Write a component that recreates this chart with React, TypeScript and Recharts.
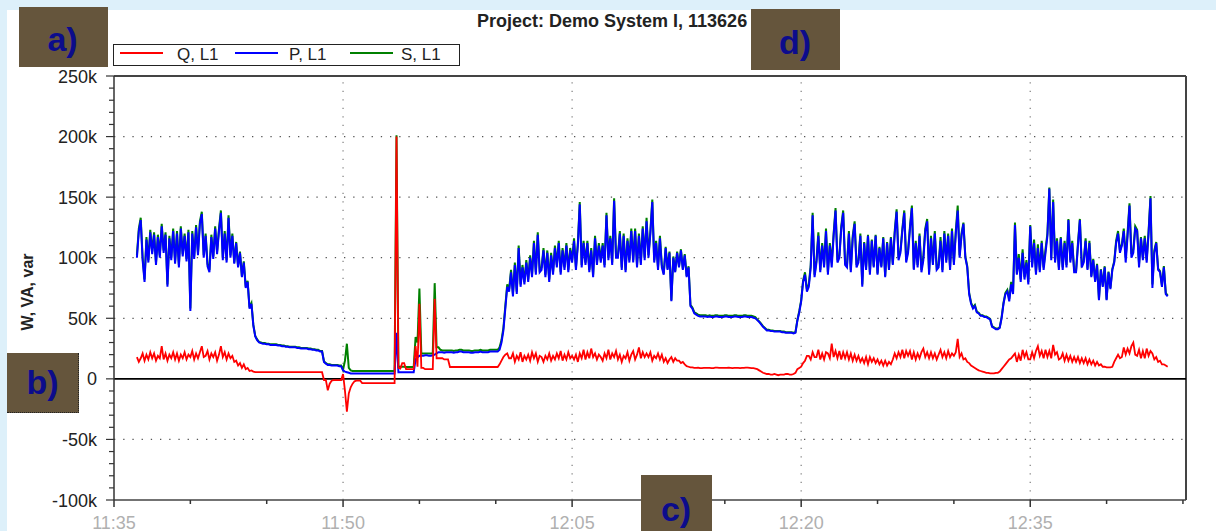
import React from 'react';
import { LineChart, Line, XAxis, YAxis, ReferenceLine } from 'recharts';

// time axis: minutes after 11:35, one sample every 0.125 min starting at 1.5
const T_START = 1.5;
const T_STEP = 0.125;

// Q, L1 (kvar) — rows: one minute each (first row starts at 1.5)
const qValues: number[] = [
  18, 14, 17, 21,
  15, 20, 16, 22, 17, 21, 15, 19, // 2
  17, 27, 16, 21, 15, 20, 17, 22, // 3
  16, 21, 15, 20, 17, 22, 16, 20, // 4
  18, 23, 16, 21, 17, 22, 27, 18, // 5
  19, 23, 16, 21, 18, 22, 15, 20, // 6
  27, 18, 22, 16, 21, 17, 19, 14, // 7
  15, 11, 13, 9, 12, 8, 9, 6.5, // 8
  7, 6, 5.5, 5.5, 5.5, 5.5, 5.5, 5.5, // 9
  5.5, 5.5, 5.5, 5.5, 5.5, 5.5, 5.5, 5.5, // 10
  5.5, 5.5, 5.5, 5.5, 5.5, 5.5, 5.5, 5.5, // 11
  5.5, 5.5, 5.5, 5.5, 5.5, 5.5, 5.5, 5.5, // 12
  5.5, 5.5, 5.5, 5.5, 5.5, 5.5, -1, -1, // 13
  -9.5, -4, -1.5, -1, -1, -1, -1, -1, // 14
  4, -10, -27, -12, -7, -4, -2, -1.5, // 15
  -1.5, -1.5, -3.5, -3.5, -3.5, -3.5, -3.5, -3.5, // 16
  -3.5, -3.5, -3.5, -3.5, -3.5, -3.5, -3.5, -3.5, // 17
  -3.5, -3.5, -3.5, -3.5, 200, 9, 8.5, 13, // 18
  13, 8, 8, 8, 8, 8, 27, 10, // 19
  62, 9, 9, 8, 8, 8, 8, 8, // 20
  66, 17, 17, 17, 17, 16, 16, 16, // 21
  9.8, 9.8, 9.8, 9.8, 9.8, 9.8, 9.8, 9.8, // 22
  9.8, 9.8, 9.8, 9.8, 9.8, 9.8, 9.8, 9.8, // 23
  9.8, 9.8, 9.8, 9.8, 9.8, 9.8, 9.8, 9.8, // 24
  9.8, 9.8, 12, 15, 18, 20, 21, 17, // 25
  17, 21, 14, 19, 16, 22, 14, 19, // 26
  16, 20, 15, 22, 17, 21, 14, 19, // 27
  18, 14, 19, 16, 21, 15, 19, 16, // 28
  21, 17, 23, 15, 20, 16, 22, 17, // 29
  19, 16, 20, 14, 21, 17, 24, 16, // 30
  22, 17, 25, 18, 21, 16, 20, 18, // 31
  15, 21, 17, 24, 16, 21, 18, 23, // 32
  16, 20, 14, 19, 17, 22, 15, 20, // 33
  23, 16, 20, 26, 17, 22, 18, 21, // 34
  18, 22, 15, 19, 17, 21, 16, 20, // 35
  14, 17, 13, 16, 18, 14, 17, 15, // 36
  15, 13, 14, 12, 10.5, 10, 9.5, 9.5, // 37
  9, 9, 9.2, 8.8, 8.8, 9, 9, 9, // 38
  9, 8.8, 8.8, 9.2, 9.2, 9, 9, 9, // 39
  9, 9, 9.2, 9, 8.8, 9, 9, 9, // 40
  8.8, 9, 9, 9.2, 9.2, 9, 8.8, 8.8, // 41
  8.5, 8, 7, 6, 5, 4.5, 4, 4, // 42
  3.5, 3.5, 4, 3.5, 3, 3.5, 3.5, 3.5, // 43
  4, 4, 3.5, 3.5, 4, 5, 8, 9, // 44
  10, 13, 15, 19, 19, 16, 22, 18, // 45
  18, 24, 16, 21, 16, 22, 21, 17, // 46
  29, 18, 23, 17, 23, 16, 22, 17, // 47
  22, 16, 21, 15, 20, 15, 19, 14, // 48
  17, 13, 18, 12, 18, 14, 17, 13, // 49
  16, 12, 15, 11, 15, 11, 14, 12, // 50
  16, 21, 17, 22, 18, 24, 17, 23, // 51
  19, 23, 16, 22, 16, 21, 17, 22, // 52
  25, 18, 22, 17, 22, 17, 21, 16, // 53
  20, 24, 18, 22, 17, 23, 18, 21, // 54
  19, 22, 33, 18, 21, 16, 17, 14, // 55
  13, 11, 10, 9, 8, 7, 6.5, 6, // 56
  5.5, 5, 5, 4.5, 4.5, 4.5, 5, 5, // 57
  6, 8, 10, 12, 14, 16, 17, 19, // 58
  21, 14, 20, 15, 24, 18, 22, 16, // 59
  16, 22, 17, 23, 27, 19, 23, 17, // 60
  24, 18, 23, 17, 28, 20, 22, 16, // 61
  17, 21, 15, 20, 15, 19, 14, 18, // 62
  14, 18, 13, 17, 13, 17, 12, 16, // 63
  12, 15, 11, 14, 11, 12, 10, 10, // 64
  9.5, 9.5, 9.5, 10, 14, 17, 20, 17, // 65
  18, 26, 20, 25, 21, 27, 30, 20, // 66
  19, 24, 17, 23, 17, 25, 19, 23, // 67
  21, 16, 18, 14, 15, 12, 12, 11, // 68
  10, // 69
];

// P, L1 (kW)
const pValues: number[] = [
  100, 122, 131, 98,
  80, 115, 96, 121, 103, 119, 94, 117, // 2
  100, 126, 104, 119, 76, 116, 98, 122, // 3
  95, 120, 92, 124, 101, 118, 97, 121, // 4
  56, 120, 99, 125, 102, 128, 136, 100, // 5
  118, 93, 88, 117, 99, 124, 103, 122, // 6
  137, 98, 120, 96, 133, 100, 118, 95, // 7
  112, 92, 104, 84, 96, 75, 80, 58, // 8
  62, 44, 35, 32, 30, 29.5, 29, 29, // 9
  28.5, 28.5, 28, 28, 28, 28, 27.5, 27.5, // 10
  27, 27, 26.5, 26.5, 26, 26, 26, 26, // 11
  25.5, 25.5, 25, 25, 25, 25, 24.5, 24.5, // 12
  24, 24, 23.5, 23.5, 22.5, 22.5, 14, 12.5, // 13
  11.5, 11.5, 11, 11, 11, 11, 10.5, 10.5, // 14
  7, 6, 5.5, 5, 4.5, 4.5, 4.5, 4.5, // 15
  4.5, 4.5, 4.5, 4.5, 4.5, 4.5, 4.5, 4.5, // 16
  4.5, 4.5, 4.5, 4.5, 4.5, 4.5, 4.5, 4.5, // 17
  4.5, 4.5, 4.5, 4.5, 38, 5.5, 5.5, 5.5, // 18
  5.5, 5.5, 5.5, 5.5, 5.5, 5.5, 16, 18, // 19
  19, 19, 19, 19.5, 19.5, 19, 19, 19.5, // 20
  20, 21, 22, 22, 22, 21.5, 22, 22, // 21
  22, 22, 21.5, 22, 22, 22.5, 22.5, 22, // 22
  22, 22, 22, 21.5, 21.5, 22, 22, 22, // 23
  22.5, 22, 22, 22, 22, 22.5, 22.5, 22.5, // 24
  22.5, 22.5, 24, 30, 40, 58, 76, 72, // 25
  88, 68, 94, 70, 108, 76, 92, 78, // 26
  96, 80, 100, 84, 112, 86, 119, 88, // 27
  90, 106, 84, 104, 80, 102, 86, 108, // 28
  92, 112, 86, 106, 90, 110, 88, 106, // 29
  96, 114, 90, 110, 144, 92, 112, 94, // 30
  112, 88, 106, 84, 116, 94, 110, 96, // 31
  110, 92, 135, 98, 116, 94, 147, 100, // 32
  100, 120, 90, 118, 88, 114, 96, 122, // 33
  96, 122, 92, 118, 94, 124, 98, 130, // 34
  100, 120, 146, 96, 112, 90, 116, 92, // 35
  86, 108, 90, 104, 64, 100, 88, 104, // 36
  92, 106, 90, 102, 84, 92, 60, 58, // 37
  54, 53, 52, 51.5, 51.5, 51.5, 51.5, 51, // 38
  51.5, 51, 51, 51.5, 51.5, 51, 51, 51, // 39
  51.5, 51.5, 51, 51, 51, 51.5, 51.5, 51, // 40
  51, 51, 51.5, 51.5, 51, 51, 51, 50.5, // 41
  50, 48.5, 47, 45, 43, 41.5, 40, 40, // 42
  39.5, 39.5, 39, 39, 39, 39, 38.5, 38.5, // 43
  38, 38, 38, 38, 37.5, 38, 48, 55, // 44
  64, 80, 86, 72, 76, 92, 135, 84, // 45
  96, 118, 88, 110, 92, 122, 86, 110, // 46
  92, 118, 139, 96, 100, 124, 137, 94, // 47
  92, 120, 88, 116, 128, 92, 96, 118, // 48
  76, 112, 90, 118, 86, 114, 92, 118, // 49
  86, 108, 92, 116, 84, 112, 90, 116, // 50
  94, 120, 138, 98, 104, 122, 137, 96, // 51
  104, 124, 141, 90, 112, 92, 118, 88, // 52
  98, 122, 130, 86, 116, 94, 120, 90, // 53
  92, 114, 88, 120, 96, 118, 90, 122, // 54
  94, 120, 139, 100, 118, 128, 100, 92, // 55
  70, 62, 58, 60, 55, 54, 52, 52, // 56
  51, 51, 50, 49, 43, 42, 41, 41, // 57
  42, 50, 62, 70, 72, 64, 78, 70, // 58
  127, 86, 100, 80, 104, 82, 96, 78, // 59
  126, 92, 112, 86, 108, 88, 112, 90, // 60
  104, 118, 157, 98, 146, 96, 114, 90, // 61
  116, 90, 112, 92, 131, 96, 112, 88, // 62
  88, 110, 131, 92, 96, 114, 90, 112, // 63
  84, 98, 80, 94, 65, 90, 76, 92, // 64
  65, 88, 74, 90, 96, 112, 120, 104, // 65
  110, 122, 96, 118, 143, 100, 104, 124, // 66
  122, 92, 116, 98, 116, 96, 120, 149, // 67
  75, 104, 112, 90, 88, 76, 92, 70, // 68
  68, // 69
];

// S, L1 (kVA)
const sValues: number[] = [
  102, 124, 133, 100,
  82, 117, 98, 123, 105, 121, 96, 119, // 2
  102, 128, 106, 121, 78, 118, 100, 124, // 3
  97, 122, 94, 126, 103, 120, 99, 123, // 4
  58, 122, 101, 127, 104, 130, 138, 102, // 5
  120, 95, 90, 119, 101, 126, 105, 124, // 6
  139, 100, 122, 98, 135, 102, 120, 96, // 7
  113, 93, 105, 85, 97, 76, 81, 59, // 8
  62.5, 44.5, 35.5, 32.5, 30.5, 30, 29.5, 29.5, // 9
  29, 29, 28.5, 28.5, 28.5, 28.5, 28, 28, // 10
  27.5, 27.5, 27, 27, 26.5, 26.5, 26.5, 26.5, // 11
  26, 26, 25.5, 25.5, 25.5, 25.5, 25, 25, // 12
  24.5, 24.5, 24, 24, 23, 23, 14.5, 13, // 13
  12, 12, 11.5, 11.5, 11.5, 11.5, 11, 11, // 14
  7.5, 15, 29, 9, 7, 6.5, 6.5, 6.5, // 15
  6.5, 6.5, 6.5, 6.5, 6.5, 6.5, 6.5, 6.5, // 16
  6.5, 6.5, 6.5, 6.5, 6.5, 6.5, 6.5, 6.5, // 17
  6.5, 6.5, 6.5, 6.5, 201, 10, 10, 10, // 18
  10, 9.8, 9.8, 9.8, 9.8, 9.8, 34.5, 30, // 19
  74.5, 21, 21, 21, 21, 21, 21, 21, // 20
  79, 26, 26, 24, 23.5, 23.5, 23.5, 23.5, // 21
  23.5, 23.5, 23, 23.5, 23.5, 24, 24, 23.5, // 22
  23.5, 23.5, 23.5, 23, 23, 23.5, 23.5, 23.5, // 23
  24, 23.5, 23.5, 23.5, 23.5, 24, 24, 24, // 24
  24, 24, 26, 32, 42, 60, 78, 74, // 25
  90, 70, 96, 72, 110, 78, 94, 80, // 26
  98, 82, 102, 86, 114, 88, 121, 90, // 27
  92, 108, 86, 106, 82, 104, 88, 110, // 28
  94, 114, 88, 108, 92, 112, 90, 108, // 29
  98, 116, 92, 112, 146, 94, 114, 96, // 30
  114, 90, 108, 86, 118, 96, 112, 98, // 31
  112, 94, 137, 100, 118, 96, 149, 102, // 32
  102, 122, 92, 120, 90, 116, 98, 124, // 33
  98, 124, 94, 120, 96, 126, 100, 133, // 34
  102, 122, 148, 98, 114, 92, 118, 94, // 35
  87, 109, 91, 105, 65, 101, 89, 105, // 36
  93, 107, 91, 103, 85, 93, 61, 59, // 37
  55, 54, 53, 52.5, 52.5, 52.5, 52.5, 52, // 38
  52.5, 52, 52, 52.5, 52.5, 52, 52, 52, // 39
  52.5, 52.5, 52, 52, 52, 52.5, 52.5, 52, // 40
  52, 52, 52.5, 52.5, 52, 52, 52, 51.5, // 41
  51, 49, 47.5, 45.5, 43.5, 42, 40.5, 40.5, // 42
  40, 40, 39.5, 39.5, 39.5, 39.5, 39, 39, // 43
  38.5, 38.5, 38.5, 38.5, 38, 38.5, 48.5, 56, // 44
  65, 81, 88, 74, 78, 94, 137, 86, // 45
  98, 121, 90, 112, 94, 124, 88, 112, // 46
  96, 120, 141, 98, 102, 126, 139, 96, // 47
  94, 122, 90, 118, 130, 94, 98, 120, // 48
  78, 113, 92, 119, 88, 115, 93, 119, // 49
  87, 109, 93, 117, 85, 113, 91, 117, // 50
  95, 122, 140, 100, 106, 124, 139, 98, // 51
  106, 126, 143, 91, 114, 94, 120, 90, // 52
  101, 124, 132, 88, 118, 96, 122, 92, // 53
  94, 117, 90, 122, 98, 120, 92, 124, // 54
  96, 122, 143, 102, 120, 129, 101, 93, // 55
  71, 63, 59, 61, 55.5, 54.5, 52.5, 52.5, // 56
  51.5, 51.5, 50.5, 49.5, 43.5, 42.5, 41.5, 41.5, // 57
  42.5, 51, 63, 71, 73.5, 66, 80, 72, // 58
  129, 87, 103, 82, 107, 84, 98, 80, // 59
  127, 95, 115, 88, 111, 90, 114, 92, // 60
  107, 120, 158, 100, 148, 98, 116, 92, // 61
  117, 92, 114, 94, 132, 98, 114, 90, // 62
  89, 112, 132, 94, 97, 116, 91, 114, // 63
  85, 99, 81, 95, 66, 90.5, 77, 93, // 64
  65.5, 88.5, 75, 90.5, 97, 114, 122, 106, // 65
  111, 124, 100, 121, 145, 103, 107, 126, // 66
  123, 95, 117, 100, 118, 98, 122, 151, // 67
  78, 106, 113, 91, 89, 77, 93, 71, // 68
  68.8, // 69
];

const X_MAX = 70.2;
const xTicks = [0, 5, 10, 15, 20, 25, 30, 35, 40, 45, 50, 55, 60, 65, 70];
const xMajorTicks = [0, 15, 30, 45, 60];
const xTickLabels = ['11:35', '11:50', '12:05', '12:20', '12:35'];
const yTicks = [
  -100, -90, -80, -70, -60, -50, -40, -30, -20, -10, 0, 10, 20, 30, 40, 50, 60, 70, 80, 90, 100,
  110, 120, 130, 140, 150, 160, 170, 180, 190, 200, 210, 220, 230, 240, 250,
];
const yMajorTicks = [-100, -50, 0, 50, 100, 150, 200, 250];
const yTickLabels = ['-100k', '-50k', '0', '50k', '100k', '150k', '200k', '250k'];
const gridY = [-50, 50, 100, 150, 200];
const gridX = [15, 30, 45, 60];

const seriesNames = ['Q, L1', 'P, L1', 'S, L1'];
const seriesColors = ['#ff0000', '#0000ff', '#008000'];

const N = Math.min(pValues.length, qValues.length, sValues.length);
const data = pValues.slice(0, N).map((p, i) => ({
  t: T_START + i * T_STEP,
  p,
  q: qValues[i],
  s: sValues[i],
}));

const FONT = '"Liberation Sans", Arial, Helvetica, sans-serif';

const XTick = (props: any) => {
  const { x, y, payload } = props;
  const idx = xMajorTicks.indexOf(payload.value);
  const major = idx >= 0;
  return (
    <g>
      <line x1={x} x2={x} y1={y} y2={y + (major ? 7 : 4)} stroke="#333" strokeWidth={1.5} />
      {major && (
        <text x={x} y={y + 29} textAnchor="middle" fontSize={18} fill="#b0b0b0" fontFamily={FONT}>
          {xTickLabels[idx]}
        </text>
      )}
    </g>
  );
};

const YTick = (props: any) => {
  const { x, y, payload } = props;
  const idx = yMajorTicks.indexOf(payload.value);
  const major = idx >= 0;
  return (
    <g>
      <line x1={x - (major ? 8 : 5)} x2={x} y1={y} y2={y} stroke="#333" strokeWidth={1.2} />
      {major && (
        <text x={x - 17} y={y + 6.5} textAnchor="end" fontSize={18} fill="#222" fontFamily={FONT}>
          {yTickLabels[idx]}
        </text>
      )}
    </g>
  );
};

const boxStyle: React.CSSProperties = {
  position: 'absolute',
  background: '#65553c',
};
const boxText = (cx: number, top: number, label: string) => (
  <div
    style={{
      position: 'absolute',
      left: cx - 100,
      top,
      width: 200,
      textAlign: 'center',
      fontSize: 34,
      lineHeight: '34px',
      fontWeight: 'bold',
      color: '#0c0c8c',
      fontFamily: FONT,
    }}
  >
    {label}
  </div>
);

const legendLineLeft = [6, 121, 236];
const legendTextLeft = [63, 175, 287];

export default function App() {
  return (
    <div
      style={{
        position: 'fixed',
        left: 0,
        top: 0,
        width: 1216,
        height: 531,
        background: '#ddf0fa',
        overflow: 'hidden',
        fontFamily: FONT,
      }}
    >
      <div style={{ position: 'absolute', left: 7, top: 10, right: 0, bottom: 0, background: '#fff' }} />
      <div style={{ position: 'absolute', left: 0, top: 0 }}>
        <LineChart width={1216} height={531} data={data} margin={{ top: 76, right: 30, bottom: 1, left: 14 }}>
          <XAxis
            dataKey="t"
            type="number"
            domain={[0, X_MAX]}
            ticks={xTicks}
            interval={0}
            allowDataOverflow
            height={30}
            tickSize={0}
            tickMargin={0}
            tickLine={false}
            axisLine={{ stroke: '#444', strokeWidth: 1.5 }}
            tick={<XTick />}
          />
          <YAxis
            type="number"
            domain={[-100, 250]}
            ticks={yTicks}
            interval={0}
            allowDataOverflow
            width={100}
            tickSize={0}
            tickMargin={0}
            tickLine={false}
            axisLine={{ stroke: '#333', strokeWidth: 1.5 }}
            tick={<YTick />}
          />
          {gridY.map((v) => (
            <ReferenceLine key={'gy' + v} y={v} stroke="#555" strokeWidth={1.3} strokeDasharray="1.3 7.9" />
          ))}
          {gridX.map((v) => (
            <ReferenceLine key={'gx' + v} x={v} stroke="#888" strokeWidth={1.3} strokeDasharray="1.3 7.2" />
          ))}
          <ReferenceLine y={250} stroke="#444" strokeWidth={2} />
          <ReferenceLine x={X_MAX} stroke="#444" strokeWidth={2} />
          <ReferenceLine y={0} stroke="#000" strokeWidth={1.6} />
          <Line
            dataKey="s"
            name={seriesNames[2]}
            stroke={seriesColors[2]}
            type="linear"
            strokeWidth={2}
            dot={false}
            activeDot={false}
            isAnimationActive={false}
          />
          <Line
            dataKey="p"
            name={seriesNames[1]}
            stroke={seriesColors[1]}
            type="linear"
            strokeWidth={2}
            dot={false}
            activeDot={false}
            isAnimationActive={false}
          />
          <Line
            dataKey="q"
            name={seriesNames[0]}
            stroke={seriesColors[0]}
            type="linear"
            strokeWidth={1.8}
            dot={false}
            activeDot={false}
            isAnimationActive={false}
          />
        </LineChart>
      </div>

      {/* title */}
      <div
        style={{
          position: 'absolute',
          left: 477,
          top: 12,
          fontSize: 18,
          lineHeight: '18px',
          fontWeight: 'bold',
          color: '#222',
          whiteSpace: 'nowrap',
        }}
      >
        Project: Demo System I, 113626
      </div>

      {/* y axis title */}
      <div
        style={{
          position: 'absolute',
          left: 28 - 60,
          top: 292 - 10,
          width: 120,
          height: 20,
          lineHeight: '20px',
          textAlign: 'center',
          transform: 'rotate(-90deg)',
          fontWeight: 'bold',
          fontSize: 16,
          color: '#222',
          whiteSpace: 'nowrap',
        }}
      >
        W, VA, var
      </div>

      {/* legend */}
      <div
        style={{
          position: 'absolute',
          left: 113,
          top: 44,
          width: 347,
          height: 22,
          border: '1px solid #222',
          boxSizing: 'border-box',
          background: '#fff',
        }}
      >
        {seriesNames.map((n, i) => (
          <React.Fragment key={n}>
            <div
              style={{
                position: 'absolute',
                left: legendLineLeft[i],
                top: 7,
                width: 43,
                height: 1.5,
                background: seriesColors[i],
              }}
            />
            <div
              style={{
                position: 'absolute',
                left: legendTextLeft[i],
                top: 1,
                fontSize: 17,
                lineHeight: '17px',
                color: '#222',
                whiteSpace: 'nowrap',
              }}
            >
              {n}
            </div>
          </React.Fragment>
        ))}
      </div>

      {/* annotation boxes */}
      <div style={{ ...boxStyle, left: 19, top: 7, width: 89, height: 60 }} />
      {boxText(62.5, 22, 'a)')}
      <div style={{ ...boxStyle, left: 751, top: 9, width: 89, height: 61 }} />
      {boxText(795, 25, 'd)')}
      <div
        style={{
          ...boxStyle,
          left: 7,
          top: 353,
          width: 72,
          height: 60,
          borderRight: '1px dotted #222',
          borderBottom: '1px dotted #222',
          boxSizing: 'border-box',
        }}
      />
      {boxText(42.5, 365, 'b)')}
      <div style={{ ...boxStyle, left: 641, top: 475, width: 71, height: 56 }} />
      {boxText(676, 492, 'c)')}
    </div>
  );
}
